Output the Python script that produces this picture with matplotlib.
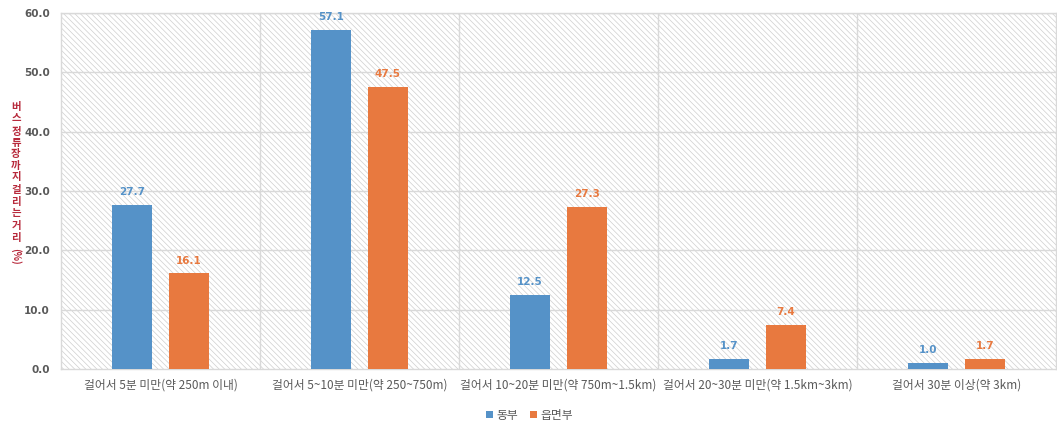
import numpy as np
import matplotlib
matplotlib.use("Agg")
import matplotlib.pyplot as plt
from matplotlib.patches import Rectangle

plt.rcParams['font.family'] = ['Noto Sans CJK KR', 'DejaVu Sans']
plt.rcParams['hatch.linewidth'] = 0.5
plt.rcParams['hatch.color'] = '#cfcfcf'

# Data
categories = ["걸어서 5분 미만(약 250m 이내)",
              "걸어서 5~10분 미만(약 250~750m)",
              "걸어서 10~20분 미만(약 750m~1.5km)",
              "걸어서 20~30분 미만(약 1.5km~3km)",
              "걸어서 30분 이상(약 3km)"]
dong = [27.7, 57.1, 12.5, 1.7, 1.0]
eup = [16.1, 47.5, 27.3, 7.4, 1.7]
series_names = ["동부", "읍면부"]
ylabel_words = ["버스", "정류장까지", "걸리는", "거리"]
ylabel_unit = "(%)"

blue = '#5592c8'
orange = '#e8793f'
grid = '#d9d9d9'
tick_gray = '#595959'
title_red = '#b7293b'

W, H = 1057, 429
fig = plt.figure(figsize=(W / 100, H / 100), dpi=100)
ax = fig.add_axes([61 / W, 60 / H, 995 / W, 356 / H])

# hatched plot background
ax.add_patch(Rectangle((0, 0), 1, 1, transform=ax.transAxes, facecolor='white',
                       edgecolor='#cfcfcf', hatch='\\\\\\\\\\\\', linewidth=0, zorder=0))

x = np.arange(len(categories))
w = 0.2
off = 0.1425
b1 = ax.bar(x - off, dong, w, color=blue, label=series_names[0], zorder=3)
b2 = ax.bar(x + off, eup, w, color=orange, label=series_names[1], zorder=3)

for rects, vals, c in [(b1, dong, blue), (b2, eup, orange)]:
    for r, v in zip(rects, vals):
        ax.text(r.get_x() + r.get_width() / 2, v + 1.3, f"{v:.1f}", ha='center', va='bottom',
                fontsize=7.5, fontweight='bold', color=c, family='DejaVu Sans', zorder=4)

ax.set_xlim(-0.5, len(categories) - 0.5)
ax.set_ylim(0, 60)
ax.set_yticks(np.arange(0, 61, 10))
ax.set_yticklabels([f"{t:.1f}" for t in np.arange(0, 61, 10)], fontsize=7.5,
                   fontweight='bold', color=tick_gray, family='DejaVu Sans')
ax.set_xticks(x)
ax.set_xticklabels(categories, fontsize=8.5, color=tick_gray)
ax.tick_params(axis='both', length=0)
ax.tick_params(axis='x', pad=7)
ax.tick_params(axis='y', pad=8)

for yv in np.arange(10, 61, 10):
    ax.axhline(yv, color=grid, linewidth=1, zorder=1)
for xv in np.arange(0.5, len(categories) - 0.5, 1):
    ax.axvline(xv, color=grid, linewidth=1, zorder=1)
for s in ax.spines.values():
    s.set_color(grid)
    s.set_linewidth(1)

# vertical stacked y-axis title, one character at a time
step = 11.2
ypix = 107
for word in ylabel_words:
    for ch in word:
        fig.text(16 / W, 1 - ypix / H, ch, ha='center', va='center', fontsize=7.5,
                 color=title_red, fontweight='bold')
        ypix += step
    ypix += 2.5
fig.text(16 / W, 1 - (ypix + 5) / H, ylabel_unit, ha='center', va='center', fontsize=7,
         color=title_red, fontweight='bold', rotation=270)

ax.legend(loc='center', bbox_to_anchor=(0.471, -0.13), ncol=2, frameon=False,
          fontsize=8.5, handlelength=0.6, handleheight=0.6, handletextpad=0.3,
          columnspacing=1.0, labelcolor=tick_gray)

fig.savefig("out.png", dpi=100)
